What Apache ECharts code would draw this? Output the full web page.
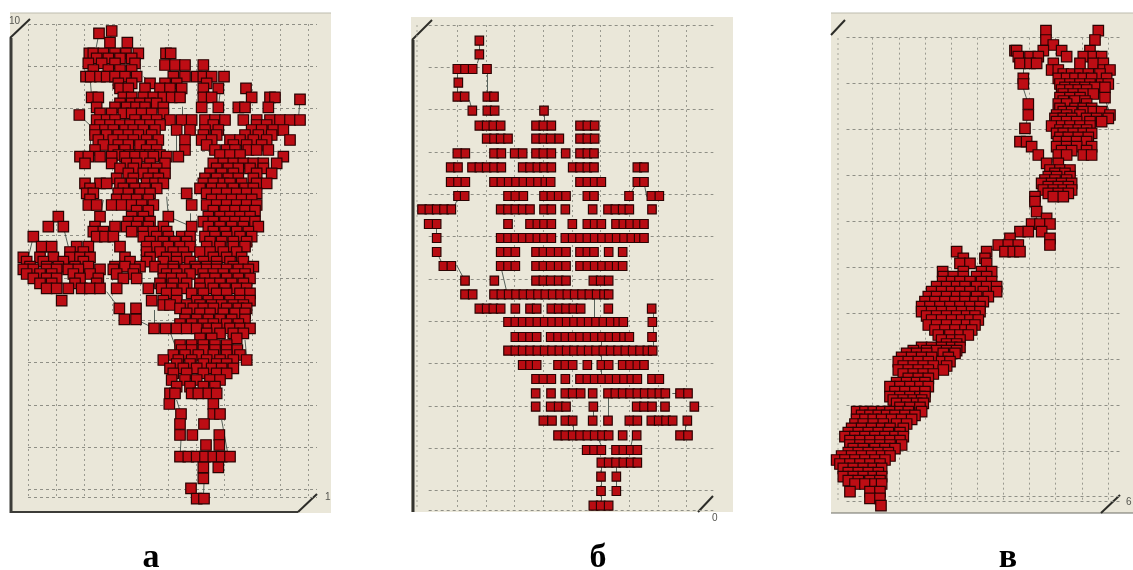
<!DOCTYPE html>
<html><head><meta charset="utf-8">
<script src="https://cdn.jsdelivr.net/npm/echarts@6/dist/echarts.min.js"></script>
<style>html,body{margin:0;background:#fff}#c{width:1133px;height:570px;filter:blur(0.4px)}</style></head>
<body><div id="c"></div>
<script>
// Values. Each row: [y, x, x, x ...] in units of a third of a pixel.
const captions = ['а', 'б', 'в'];
const cornerLabels = ['10', '1', '0', '6'];
const rowsA = [
[93,335],[100,297],[128,330,382],
[160,268,280,310,345,378,415,498,512],[175,290,325,360,395],[190,265,305,345,405],[195,495,525,555,610],[210,280,325,360,395],
[230,258,272,300,320,345,375,410,520,555,590,610,635,672],[250,355,395,450,495,530,620],
[265,360,385,435,480,510,545,610,655,738],
[292,275,295,370,395,430,460,490,515,540,610,635,755,810,825],[298,900],[310,360,395,420,450,470],
[322,290,345,380,408,435,490,605,655,715,735,805],[340,300,335,370,395,425,455,490],[345,238],
[360,290,320,345,405,440,470,510,545,575,615,645,675,730,770,810,840,870,900],[375,300,330,360,390,420,450,480,640,770,800],
[390,285,315,340,375,400,430,465,530,570,615,655,755,785,820,850],[405,285,320,355,385,415,455,610,650,735,775,815],
[420,295,340,370,400,440,475,555,605,635,690,720,760,800,870],[435,310,355,385,420,455,620,700,740,785],
[450,285,340,375,440,470,555,645,680,705,745,770,805],[465,355,390,420,450,480,660,690,720],
[470,240,265,300,335,375,405,435,460,500,535,850],
[490,255,335,380,410,450,495,640,670,700,730,760,790,830],[505,360,400,440,470,650,685,715,750,790],
[520,385,430,460,495,630,665,700,770,815],[535,350,400,445,475,615,650,685,715,760],
[550,255,300,320,360,395,440,465,490,610,640,670,690,725,770,800],[565,270,370,405,435,470,600,635,665,700,735,760],
[580,260,280,355,385,420,450,560,620,650,680,710,740,770],[598,270,350,380,410,445,635,665,695,725,755],
[615,265,290,335,365,395,425,460,575,620,650,680,710,740,770],[632,410,445,640,675,705,735,765],
[650,175,300,395,430,505,625,660,690,720,750],[665,385,415,450,610,640,675,705,735,765],
[680,145,190,285,345,380,410,445,490,575,625,660,695,730,775],[695,280,310,395,430,460,500,640,675,710,745],
[710,100,290,315,340,430,470,505,545,570,615,645,680,720,755],[725,450,490,525,560,630,665,700,740],
[740,125,155,230,265,360,440,470,505,540,570,620,660,700,735],[756,210,250,440,480,520,550,600,630,670,710],
[772,70,120,160,210,240,270,375,450,500,530,560,640,680,725],[785,80,130,190,250,390,440,490,530,570,610,650,690,730],
[800,90,140,175,225,265,345,375,420,465,520,585,620,650,700,760],
[808,70,100,140,170,205,235,300,340,405,490,520,555,590,620,650,680,715,745],[822,80,120,155,220,270,350,400,500,530,570,610,640,670,705,735],
[835,100,140,170,240,295,370,410,490,515,545,615,645,680,715,750],[850,120,155,225,290,480,520,560,600,630,660,695,730],
[865,140,170,205,245,270,300,350,445,485,515,550,600,640,675,710,740],[880,500,530,575,610,650,680,720,750],
[902,185,455,490,530,590,625,655,690,720,750],[915,490,510,560,600,635,665,700,730],
[925,358,408,540,580,610,640,680,715,740],[940,560,600,630,670,705,735],
[958,373,408,555,590,625,660,695,735],[972,540,575,610,640,680,715],
[985,462,497,530,560,590,625,650,690,720,750],[1000,620,660,700,730],
[1015,600,635,710],[1035,540,575,610,645,680],
[1050,545,575,610,645,680,712],[1065,520,555,595,640,680,720],
[1080,490,535,575,620,660,700,740],[1092,530,570,610,650,680],
[1105,510,550,590,635,665,700],[1120,520,560,610,650,680],
[1140,515,555,590,630,660],[1160,530,570,610,645],
[1180,510,525,575,595,625,650],
[1212,508,640],[1242,543,640,660],[1272,540,612],[1305,540,577,658],[1335,618,658],
[1370,540,565,590,615,640,665,690],[1402,610,655],[1435,610],[1465,573],[1496,590,612]
];
const rowsB = [
[122,238],[163,238],[207,172,195,218,261],[248,175],[290,172,194,262,282],
[332,217,262,284,432],
[377,238,260,280,302,408,430,454,540,562,584],
[416,260,282,302,324,408,430,452,478,540,562,584],
[460,172,196,282,304,344,368,408,430,454,497,540,562,582],
[502,152,174,216,238,260,282,304,368,390,412,432,454,518,540,562,582,712,732],
[546,152,174,196,282,304,326,348,370,392,414,436,452,540,562,584,604,712,732],
[588,174,194,324,346,370,432,454,476,498,562,582,687,754,778],
[628,66,88,110,132,154,302,324,346,368,390,432,454,496,578,624,646,668,688,756],
[672,86,110,324,390,412,432,454,517,562,584,604,648,670,690,712,732],
[714,110,302,324,346,368,390,412,432,454,496,518,540,562,584,606,628,650,672,694,716,732],
[756,110,302,324,346,408,430,452,476,498,540,562,582,626,668],
[798,130,154,302,324,346,408,430,452,476,498,540,562,584,606,628,650,668],
[842,195,283,408,430,452,476,498,580,602,626],
[883,195,218,282,304,326,348,370,392,414,436,458,480,502,524,546,568,590,612,626],
[926,238,260,280,302,346,390,410,454,476,498,520,542,625,755],
[966,324,346,368,390,412,434,456,478,500,522,544,566,588,610,632,654,670,757],
[1011,346,368,390,410,452,474,496,518,540,562,584,606,628,650,672,688,756],
[1052,324,346,368,390,412,434,456,478,500,522,544,566,588,610,632,654,676,698,720,742,758],
[1095,368,390,410,474,496,518,562,604,626,668,690,712,732],
[1137,408,430,454,496,540,562,584,606,628,650,672,694,712,756,778],
[1180,407,453,496,518,542,578,624,646,668,690,712,734,756,778,796,840,864],
[1220,407,452,476,498,580,710,732,756,795,883],
[1262,430,456,496,518,578,624,688,712,754,776,798,818,862],
[1306,474,496,518,540,562,584,606,626,668,710,840,864],
[1350,560,582,604,648,670,692,712],
[1388,604,626,648,670,692,712],
[1430,603,649],[1473,603,649],[1517,580,602,626]
];
const rowsC = [
[92,738,895],[120,738,885],[135,760],[152,645,650,730,785,870],
[170,655,690,715,800,850,880,905],[190,660,690,710,760,840,880,910],
[210,755,775,910,930],[222,790,815,840,865,900],[235,670,775,800,825,850,875,920],
[252,670,780,810,840,870,905,925],[262,795,825,855,885,915],[270,785,810,835,860],[282,790,820,850,880],[293,780,810,840,915],
[303,790,825,855],[312,685,775,800,860],[325,780,825,850,875],[335,790,815,850,880,905],[345,685,770,800,840,930],
[355,765,790,815,860,890,925],[365,770,800,830,870,905],[378,755,785,810,840,870],[385,675],[390,780,805,835,860],
[400,770,790,820,850,875],[412,780,805,835,865],[425,660,680,775,800,830,860],[440,695,770,800,830,875],[452,785,815,860],
[465,715,775,800,850,875],[490,740,775],[510,750,780,810],[520,765,795],[530,745,770,810],[540,735,765,800],
[550,725,755,785,815],[560,745,775,805],[570,730,760,790,815],[580,745,775,805],[590,705,760,790],[605,705],[635,710],
[655,740],[672,695,720,750],[695,660,685,725],[715,630,750],[735,595,625,655,750],
[755,470,560,615,640,660],[775,490,555],[790,480,510,560],[815,428,490,545,575],[830,430,460,490,530,560],
[845,428,455,480,510,545,575],[860,410,440,470,495,530,560,590],[875,395,425,455,480,510,550,590],[890,385,410,440,470,495,530,565],
[905,375,405,435,465,495,525,550],[920,365,390,420,450,480,510,540],[935,365,395,425,455,485,515,540],[948,380,410,440,470,500,525],
[960,395,425,455,485,510,535],[975,385,410,440,470,500,525],[990,405,435,465,495,515],[1005,415,450,480,505],[1020,425,455,480],[1032,440,470],
[1042,365,395,425,455,480],[1052,340,380,410,440,470],[1060,320,350,380,430,465],[1072,305,335,365,395,445],[1085,295,325,355,385,425,450],[1098,310,340,370,400,440],
[1110,295,325,355,385,430],[1122,310,340,370,400],[1135,325,355,385],[1148,290,320,350,375],[1160,270,300,330,360,385],[1175,285,315,345,375],
[1190,270,300,330,360,375],[1200,280,310,340,365],[1210,290,320,350,370],[1222,300,330,360],[1235,170,195,220,245,270,300,325,365],[1246,185,210,235,260,285,315,345],
[1258,170,195,220,245,275,305,335],[1272,165,190,220,250,290,320],[1285,155,185,215,245,270,310],[1298,145,175,205,235,265,300],
[1310,135,165,195,225,255,285,310],[1322,150,180,210,240,270,300],[1335,150,180,210,240,270,305],[1346,160,190,225,255,285],
[1358,145,175,205,235,265],[1368,125,155,185,215,245,270],[1380,110,135,165,195,225,255],[1392,120,150,180,210,240],[1405,130,160,190,220,245],[1418,145,175,205,235],
[1430,130,160,190,220,245],[1442,145,175,210,240],[1452,165,195,225,245],[1475,150,210,240],[1495,210,240],[1517,243]
];
// Links: [x1, y1, x2, y2] in the same units.
const linksA = [
[900,298,895,360],[297,100,285,160],[335,93,330,128],[238,345,285,390],[270,230,275,292],
[430,230,480,265],[548,320,548,360],[660,280,655,322],[500,590,505,650],[505,650,575,680],
[100,710,85,772],[190,680,205,740],[320,875,358,925],[408,958,462,985],[462,930,462,970],
[510,995,530,1050],[530,1200,543,1242],[543,1320,540,1370],[665,1260,685,1370],
[612,1450,610,1496],[680,1005,710,1050],[735,1020,740,1070],[270,420,270,470],[530,400,530,470],
[750,500,745,550],[570,640,570,700],[310,600,300,650],[540,1260,540,1305]
];
const linksB = [
[238,122,238,163],[262,207,262,290],[232,190,238,170],[172,207,172,290],[208,300,217,332],
[432,332,432,377],[160,628,175,590],[110,672,110,714],[110,756,130,798],[740,590,732,546],
[687,588,712,546],[170,796,195,842],[305,810,322,883],[582,883,582,966],[605,1000,605,1130],
[760,926,760,1052],[624,1180,624,1262],[580,1220,580,1262],[855,1262,855,1306],[817,1180,840,1180],
[604,1388,604,1517],[649,1388,649,1473],[590,1306,610,1350],[520,1262,520,1306],[700,1306,690,1350]
];
const linksC = [
[670,265,685,312],[685,312,685,345],[675,385,685,345],[915,293,930,345],[670,200,670,235],
[700,620,710,655],[740,490,780,480],[600,740,560,755]
];

function points(rows, x0, y0) {
  const out = [];
  rows.forEach(r => r.slice(1).forEach(x => out.push([x - x0, r[0] - y0])));
  return out;
}
function segs(links, x0, y0) {
  return links.map(l => ({coords: [[l[0] - x0, l[1] - y0], [l[2] - x0, l[3] - y0]]}));
}

const panels = [
 {rows: rowsA, links: linksA, x0: 84, y0: 72, ix: 84, iy: 127, left: 28, top: 24, w: 289, h: 473.33, size: 10.5},
 {rows: rowsB, links: linksB, x0: 86, y0: 75, ix: 86, iy: 127, left: 428.67, top: 25, w: 284.67, h: 485, size: [8.5, 9]},
 {rows: rowsC, links: linksC, x0: 139.6, y0: 113, ix: 78.44, iy: 137.7, left: 846.5, top: 37.67, w: 275.2, h: 464, size: 10.5}
];
const gridLine = {color: '#8f8f86', width: 1, type: [3, 3]};
const option = {
  animation: false,
  backgroundColor: '#fff',
  grid: panels.map(p => ({left: p.left, top: p.top, width: p.w, height: p.h})),
  xAxis: panels.map((p, i) => ({
    type: 'value', gridIndex: i, min: 0, max: p.w * 3, interval: p.ix,
    axisLine: {show: false}, axisTick: {show: false}, axisLabel: {show: false},
    splitLine: {show: true, showMinLine: i === 0, showMaxLine: false, lineStyle: {color: '#9a9a90', width: 1, type: [2, 3]}}
  })),
  yAxis: panels.map((p, i) => ({
    type: 'value', gridIndex: i, inverse: true, min: 0, max: p.h * 3, interval: p.iy,
    axisLine: {show: false}, axisTick: {show: false}, axisLabel: {show: false},
    splitLine: {show: true, lineStyle: gridLine}
  })),
  series: panels.flatMap((p, i) => [
    {type: 'lines', coordinateSystem: 'cartesian2d', xAxisIndex: i, yAxisIndex: i, z: 1, silent: true,
     lineStyle: {color: '#3d4a44', width: 1, opacity: 0.85}, data: segs(p.links, p.x0, p.y0)},
    {type: 'scatter', xAxisIndex: i, yAxisIndex: i, z: 2, clip: false, progressive: 0, silent: true,
     symbol: 'rect', symbolSize: p.size,
     itemStyle: {color: i === 1 ? '#b80c12' : '#bd0d14', borderColor: '#2a0303', borderWidth: 1.2, opacity: 1},
     data: points(p.rows, p.x0, p.y0)}
  ]),
  graphic: {elements: [
    ...[[10,13,321,500],[411,17,322,495],[831,13,302,500]].map(r => ({
      type: 'rect', z: -10, shape: {x: r[0], y: r[1], width: r[2], height: r[3]},
      style: {fill: '#eae7d9'}})),
    {type: 'line', z: -9, shape: {x1: 10, y1: 13, x2: 331, y2: 13}, style: {stroke: '#bdbcae', lineWidth: 1}},
    {type: 'line', z: -9, shape: {x1: 831, y1: 13, x2: 1133, y2: 13}, style: {stroke: '#bdbcae', lineWidth: 1}},
    ...[
      [11,38,11,513,3,'#3c3c38'],[10,512,298,512,2,'#3c3c38'],[10,38,30,19,2,'#2c2c28'],[298,512,317,494,2,'#2c2c28'],
      [413,40,413,512,3,'#33332e'],[412,40,432,20,2,'#2c2c28'],[698,512,713,496,2,'#2c2c28'],
      [831,513,1133,513,1,'#6c6c64'],[831,35,845,20,2,'#2c2c28'],[1101,513,1120,495,2,'#2c2c28'],
      [417,25,417,510,1,'#a5a59a'],[838,38,838,502,1,'#a5a59a']
    ].map(l => ({type: 'line', z: -5, shape: {x1: l[0], y1: l[1], x2: l[2], y2: l[3]},
      style: {stroke: l[5], lineWidth: l[4], lineDash: l[4] === 1 && l[0] === l[2] ? [2, 3] : null}})),
    ...[[151,558],[598,558],[1008,558]].map((c, i) => ({
      type: 'text', z: 5, x: c[0], y: c[1],
      style: {text: captions[i], fill: '#000', font: 'bold 34px "Liberation Serif"', textAlign: 'center', textVerticalAlign: 'middle'}})),
    ...[[9,21,'left'],[325,497,'left'],[712,518,'left'],[1126,502,'left']].map((c, i) => ({
      type: 'text', z: 5, x: c[0], y: c[1],
      style: {text: cornerLabels[i], fill: '#55554f', font: '10px "Liberation Sans"', textAlign: c[2], textVerticalAlign: 'middle'}}))
  ]}
};
echarts.init(document.getElementById('c'), null, {renderer: 'canvas'}).setOption(option);
</script>
</body></html>
